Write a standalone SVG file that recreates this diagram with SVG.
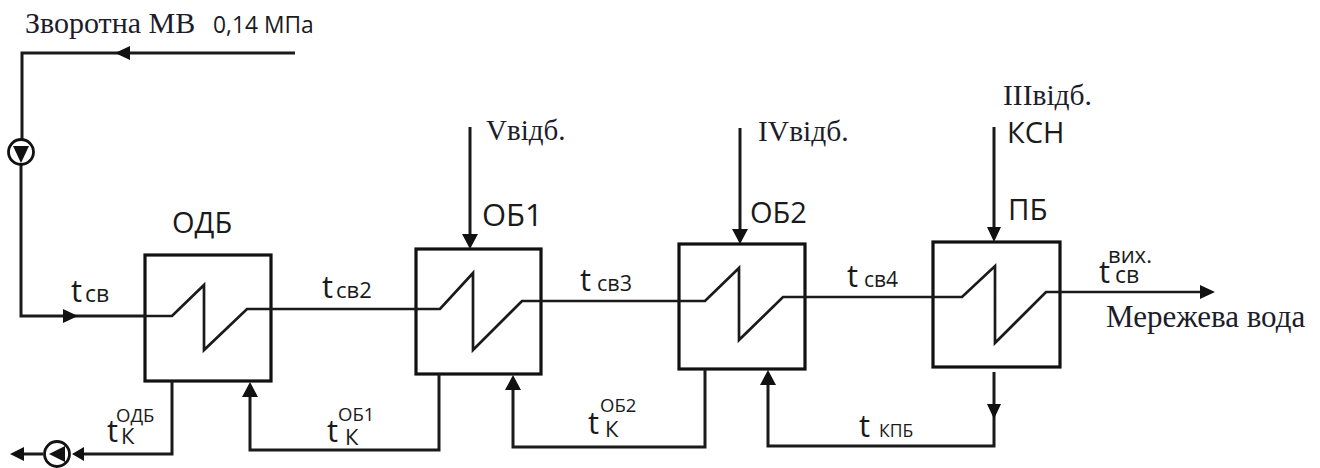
<svg xmlns="http://www.w3.org/2000/svg" width="1320" height="468" viewBox="0 0 1320 468">
<style>
.l{fill:none;stroke:#1a1a1a;stroke-width:3}
.b{fill:#fff;stroke:#111;stroke-width:3.2}
.z{fill:none;stroke:#1a1a1a;stroke-width:2.7}
.h{fill:#111;stroke:none}
.s{font-family:"Liberation Serif","Times New Roman",serif;fill:#1c1c2a}
.n{font-family:"Open Sans","Noto Sans",sans-serif;fill:#1a1a1a}
text{white-space:pre}
</style>
<rect width="1320" height="468" fill="#fff"/>
<g id="node-odb"><rect class="b" x="145" y="255" width="126" height="126"/><text class="n" x="172" y="233" font-size="29">ОДБ</text></g>
<g id="node-ob1"><rect class="b" x="416" y="249" width="125" height="125"/><text class="n" x="482" y="226" font-size="31">ОБ1</text></g>
<g id="node-ob2"><rect class="b" x="679" y="244" width="126" height="125"/><text class="n" x="750" y="223" font-size="29">ОБ2</text></g>
<g id="node-pb"><rect class="b" x="933" y="242" width="127" height="125"/><text class="n" x="1008" y="220" font-size="29.5">ПБ</text></g>
<g id="connectors">
<path class="l" d="M295 53H22V139"/>
<path class="l" d="M21 165V316H145"/>
<path class="z" d="M145 316H172L204 285V350L247 309H440L473 273V350L522 301H705L739 268V340L783 297H962L995 266V343L1046 292H1202"/>
<path class="l" d="M470 127V236M740 128V231M994 127V230"/>
<path class="l" d="M172 381V454H82M43 454H22"/>
<path class="l" d="M439 374V450H250V394"/>
<path class="l" d="M705 369V447H513V387"/>
<path class="l" d="M994 372V446H768V382"/>
<path class="h" d="M115 53l15-7v14zM78 316l-15-7v14zM1215 292l-15-7v14zM10 454l14-7v14zM72 454l12-7v14zM470 249l-8-15h16zM740 244l-8-15h16zM994 242l-7-15h14zM994 419l-7-15h14zM250 382l-8 15h16zM513 375l-8 15h16zM768 370l-8 15h16z"/>
</g>
<g id="pump-1"><circle cx="21" cy="152" r="12.5" fill="#fff" stroke="#111" stroke-width="2.8"/><path class="h" d="M21 163l-8-17h16z"/></g>
<g id="pump-2"><circle cx="57" cy="454" r="12.5" fill="#fff" stroke="#111" stroke-width="2.8"/><path class="h" d="M49 454l16-8v16z"/></g>
<g id="labels">
<text class="s" x="25" y="33" font-size="30">Зворотна МВ</text>
<text class="n" x="213" y="33" font-size="22.8">0,14 МПа</text>
<text class="s" x="486" y="140" font-size="29">Vвідб.</text>
<text class="s" x="758" y="141" font-size="29.5">IVвідб.</text>
<text class="s" x="1003" y="105" font-size="29.5">ІІІвідб.</text>
<text class="n" x="1007" y="143" font-size="29">КСН</text>
<text class="s" x="1106" y="327" font-size="31">Мережева вода</text>
<text class="n" x="71" y="302" font-size="31">t<tspan x="85" font-size="23">св</tspan></text>
<text class="n" x="322" y="298" font-size="31">t<tspan x="336" font-size="22">св2</tspan></text>
<text class="n" x="580" y="291" font-size="31">t<tspan x="597" font-size="21.5">св3</tspan></text>
<text class="n" x="847" y="287" font-size="31">t<tspan x="864" font-size="21">св4</tspan></text>
<text class="n" x="1099" y="283" font-size="31">t<tspan x="1115" font-size="23">св</tspan><tspan x="1108" y="263" font-size="22">вих.</tspan></text>
<text class="n" x="107" y="442" font-size="31">t<tspan x="121" y="444" font-size="22">К</tspan><tspan x="116" y="422" font-size="18.5">ОДБ</tspan></text>
<text class="n" x="327" y="442" font-size="31">t<tspan x="345" y="445" font-size="22">К</tspan><tspan x="338" y="421" font-size="18.5">ОБ1</tspan></text>
<text class="n" x="588" y="434" font-size="31">t<tspan x="605" y="437" font-size="22">К</tspan><tspan x="600" y="412" font-size="18.5">ОБ2</tspan></text>
<text class="n" x="859" y="437" font-size="31">t<tspan x="879" font-size="17.5">КПБ</tspan></text>
</g>
</svg>
